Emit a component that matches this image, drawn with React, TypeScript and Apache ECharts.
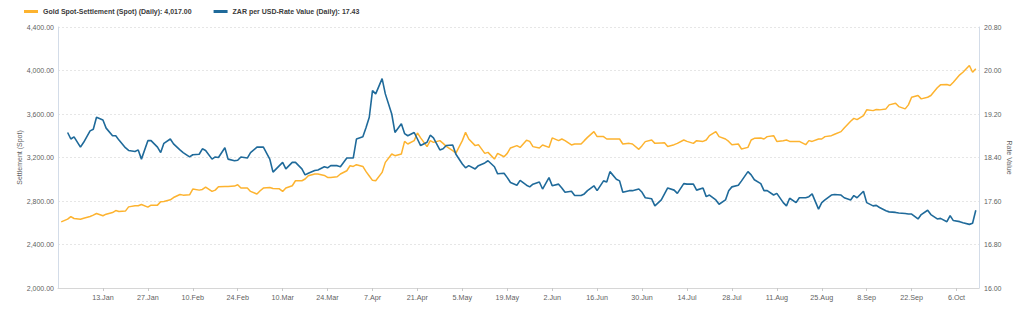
import React, { useEffect, useRef } from "react";
import * as echarts from "echarts";

const dates = [
  "2024-12-31","2025-01-02","2025-01-03","2025-01-04","2025-01-06","2025-01-07","2025-01-09","2025-01-10","2025-01-11","2025-01-13",
  "2025-01-14","2025-01-16","2025-01-17","2025-01-18","2025-01-20","2025-01-21","2025-01-23","2025-01-24","2025-01-25","2025-01-27",
  "2025-01-28","2025-01-30","2025-01-31","2025-02-01","2025-02-03","2025-02-04","2025-02-06","2025-02-07","2025-02-09","2025-02-10",
  "2025-02-12","2025-02-13","2025-02-14","2025-02-16","2025-02-17","2025-02-18","2025-02-20","2025-02-21","2025-02-23","2025-02-24",
  "2025-02-25","2025-02-27","2025-02-28","2025-03-02","2025-03-03","2025-03-04","2025-03-06","2025-03-07","2025-03-09","2025-03-10",
  "2025-03-11","2025-03-13","2025-03-14","2025-03-16","2025-03-17","2025-03-18","2025-03-20","2025-03-21","2025-03-23","2025-03-24",
  "2025-03-25","2025-03-27","2025-03-28","2025-03-30","2025-03-31","2025-04-01","2025-04-02","2025-04-04","2025-04-05","2025-04-06",
  "2025-04-07","2025-04-08","2025-04-10","2025-04-11","2025-04-13","2025-04-14","2025-04-16","2025-04-17","2025-04-18","2025-04-20",
  "2025-04-21","2025-04-22","2025-04-24","2025-04-25","2025-04-26","2025-04-28","2025-04-29","2025-04-30","2025-05-02","2025-05-03",
  "2025-05-05","2025-05-06","2025-05-07","2025-05-09","2025-05-10","2025-05-12","2025-05-13","2025-05-15","2025-05-16","2025-05-18",
  "2025-05-19","2025-05-20","2025-05-22","2025-05-23","2025-05-25","2025-05-26","2025-05-27","2025-05-29","2025-05-30","2025-06-01",
  "2025-06-02","2025-06-04","2025-06-05","2025-06-06","2025-06-08","2025-06-09","2025-06-11","2025-06-12","2025-06-13","2025-06-15",
  "2025-06-16","2025-06-18","2025-06-19","2025-06-20","2025-06-22","2025-06-23","2025-06-24","2025-06-26","2025-06-27","2025-06-29",
  "2025-06-30","2025-07-01","2025-07-03","2025-07-04","2025-07-06","2025-07-07","2025-07-08","2025-07-10","2025-07-11","2025-07-13",
  "2025-07-14","2025-07-16","2025-07-17","2025-07-19","2025-07-20","2025-07-21","2025-07-23","2025-07-24","2025-07-26","2025-07-27",
  "2025-07-28","2025-07-30","2025-07-31","2025-08-02","2025-08-03","2025-08-04","2025-08-06","2025-08-07","2025-08-08","2025-08-10",
  "2025-08-11","2025-08-13","2025-08-14","2025-08-15","2025-08-17","2025-08-18","2025-08-20","2025-08-21","2025-08-22","2025-08-24",
  "2025-08-25","2025-08-26","2025-08-28","2025-08-29","2025-08-31","2025-09-01","2025-09-03","2025-09-04","2025-09-05","2025-09-07",
  "2025-09-08","2025-09-10","2025-09-11","2025-09-12","2025-09-14","2025-09-15","2025-09-17","2025-09-18","2025-09-20","2025-09-21",
  "2025-09-22","2025-09-24","2025-09-25","2025-09-27","2025-09-28","2025-09-30","2025-10-01","2025-10-03","2025-10-04","2025-10-05",
  "2025-10-07","2025-10-08","2025-10-10","2025-10-11","2025-10-12",
];

const goldValues = [
  2608,2633,2657,2639,2633,2642,2657,2670,2685,2664,
  2679,2694,2712,2703,2707,2746,2756,2756,2768,2744,
  2762,2762,2793,2796,2811,2832,2860,2854,2857,2910,
  2900,2906,2928,2888,2900,2931,2934,2934,2937,2949,
  2919,2919,2888,2864,2894,2919,2924,2915,2912,2888,
  2919,2940,2986,2986,3002,3032,3048,3048,3035,3017,
  3017,3023,3048,3078,3124,3118,3134,3118,3070,3030,
  2990,2986,3063,3155,3232,3217,3232,3348,3324,3355,
  3426,3380,3300,3355,3339,3355,3330,3302,3263,3241,
  3355,3431,3370,3309,3318,3238,3247,3186,3238,3207,
  3238,3288,3309,3293,3358,3348,3300,3288,3315,3293,
  3380,3355,3370,3355,3315,3324,3324,3355,3385,3438,
  3392,3392,3370,3370,3370,3370,3324,3330,3324,3275,
  3309,3346,3361,3330,3334,3336,3302,3318,3330,3361,
  3348,3330,3355,3348,3361,3401,3438,3392,3370,3348,
  3318,3324,3278,3293,3361,3376,3380,3370,3392,3401,
  3348,3355,3361,3348,3348,3348,3318,3355,3348,3370,
  3370,3392,3401,3414,3438,3472,3533,3560,3548,3585,
  3638,3631,3641,3638,3647,3684,3699,3668,3647,3684,
  3754,3770,3739,3754,3770,3841,3868,3871,3862,3892,
  3960,3984,4046,3984,4017,
];

const zarValues = [
  null,18.86,18.74,18.78,18.59,18.68,18.89,18.92,19.14,19.09,
  18.94,18.80,18.80,18.72,18.58,18.53,18.51,18.54,18.37,18.71,
  18.71,18.59,18.49,18.66,18.74,18.65,18.54,18.49,18.41,18.45,
  18.46,18.56,18.53,18.37,18.41,18.40,18.58,18.37,18.34,18.35,
  18.41,18.39,18.49,18.59,18.59,18.59,18.37,18.13,18.25,18.31,
  18.19,18.31,18.31,18.19,18.08,18.11,18.16,18.17,18.23,18.21,
  18.25,18.25,18.23,18.39,18.39,18.39,18.74,18.78,18.95,19.14,
  19.63,19.57,19.85,19.57,19.20,18.86,19.02,18.84,18.80,18.86,
  18.74,18.62,18.68,18.81,18.76,18.54,18.56,18.62,18.63,18.46,
  18.28,18.21,18.25,18.19,18.25,18.30,18.34,18.23,18.10,18.11,
  18.03,17.94,17.89,17.98,17.89,17.86,17.91,17.95,17.82,18.03,
  17.88,17.91,17.84,17.76,17.78,17.70,17.70,17.73,17.79,17.88,
  17.79,17.97,17.95,18.14,18.00,17.97,17.76,17.79,17.79,17.82,
  17.76,17.66,17.64,17.51,17.62,17.73,17.84,17.80,17.74,17.92,
  17.91,17.91,17.80,17.84,17.68,17.71,17.62,17.54,17.62,17.79,
  17.86,17.89,17.97,18.14,18.08,17.99,17.92,17.79,17.79,17.71,
  17.74,17.57,17.51,17.65,17.57,17.66,17.66,17.68,17.73,17.45,
  17.57,17.62,17.71,17.72,17.71,17.66,17.62,17.70,17.66,17.78,
  17.57,17.51,17.52,17.48,17.42,17.40,17.39,17.38,17.37,17.36,
  17.36,17.27,17.35,17.43,17.35,17.27,17.28,17.22,17.33,17.24,
  17.22,17.20,17.17,17.19,17.43,
];

const goldName = "Gold Spot-Settlement (Spot) (Daily): 4,017.00";
const zarName = "ZAR per USD-Rate Value (Daily): 17.43";
const leftAxisName = "Settlement (Spot)";
const rightAxisName = "Rate Value";
const monthNames = ["Jan","Feb","Mar","Apr","May","Jun","Jul","Aug","Sep","Oct","Nov","Dec"];
const tickAnchor = "2025-01-13";

const DAY = 86400000;
const parse = (s: string) => {
  const [y, m, d] = s.split("-").map(Number);
  return Date.UTC(y, m - 1, d);
};
const anchor = parse(tickAnchor);
const toOffset = (s: string) => Math.round((parse(s) - anchor) / DAY);

const FONT = "'Liberation Sans', Arial, sans-serif";

export default function App() {
  const ref = useRef<HTMLDivElement>(null);
  useEffect(() => {
    document.body.style.margin = "0";
    if (!ref.current) return;
    const chart = echarts.init(ref.current, null, { renderer: "svg" });
    const xs = dates.map(toOffset);
    const goldData = xs.map((x, i) => [x, goldValues[i]]);
    const zarData = xs.map((x, i) => [x, zarValues[i]]);
    const first = toOffset("2024-12-30");
    const last = toOffset("2025-10-13");
    const labelColor = "#5f5f5f";
    chart.setOption({
      animation: false,
      backgroundColor: "#ffffff",
      textStyle: { fontFamily: FONT },
      legend: {
        left: 19,
        top: 3,
        itemWidth: 14,
        itemHeight: 3,
        itemGap: 22,
        icon: "rect",
        textStyle: { fontFamily: FONT, fontSize: 7, fontWeight: "bold", color: "#3a3a3a" },
        data: [goldName, zarName],
      },
      grid: { left: 58, right: 45, top: 27, bottom: 32 },
      xAxis: {
        type: "value",
        min: first,
        max: last,
        interval: 14,
        axisLine: { show: true, onZero: false, lineStyle: { color: "#d6d6d6", width: 1 } },
        axisTick: { show: true, length: 3, lineStyle: { color: "#c8c8c8" } },
        splitLine: { show: false },
        axisLabel: {
          color: labelColor,
          fontSize: 7.2,
          fontFamily: FONT,
          margin: 6,
          showMinLabel: false,
          showMaxLabel: false,
          formatter: (v: number) => {
            if (v < 0 || v > 266) return "";
            const d = new Date(anchor + v * DAY);
            return `${d.getUTCDate()}.${monthNames[d.getUTCMonth()]}`;
          },
        },
      },
      yAxis: [
        {
          type: "value",
          min: 2000,
          max: 4400,
          interval: 400,
          position: "left",
          name: leftAxisName,
          nameLocation: "middle",
          nameGap: 35,
          nameMoveOverlap: false,
          nameTextStyle: { color: labelColor, fontSize: 7, fontFamily: FONT },
          axisLine: { show: true, onZero: false, lineStyle: { color: "#d3dce8", width: 1 } },
          axisTick: { show: false },
          axisLabel: {
            color: labelColor,
            fontSize: 7,
            fontFamily: FONT,
            margin: 4,
            formatter: (v: number) =>
              v.toLocaleString("en-US", { minimumFractionDigits: 2, maximumFractionDigits: 2 }),
          },
          splitLine: { show: true, lineStyle: { color: "#e6e6e6", type: [2, 2], width: 1 } },
        },
        {
          type: "value",
          min: 16,
          max: 20.8,
          interval: 0.8,
          position: "right",
          name: rightAxisName,
          nameLocation: "middle",
          nameGap: 27,
          nameRotate: -90,
          nameMoveOverlap: false,
          nameTextStyle: { color: labelColor, fontSize: 7, fontFamily: FONT },
          axisLine: { show: true, onZero: false, lineStyle: { color: "#d3dce8", width: 1 } },
          axisTick: { show: false },
          axisLabel: {
            color: labelColor,
            fontSize: 7,
            fontFamily: FONT,
            margin: 5,
            formatter: (v: number) => v.toFixed(2),
          },
          splitLine: { show: false },
        },
      ],
      series: [
        {
          name: goldName,
          type: "line",
          yAxisIndex: 0,
          data: goldData,
          showSymbol: false,
          symbol: "none",
          color: "#FDB32F",
          lineStyle: { color: "#FDB32F", width: 1.5 },
          z: 2,
        },
        {
          name: zarName,
          type: "line",
          yAxisIndex: 1,
          data: zarData,
          showSymbol: false,
          symbol: "none",
          connectNulls: false,
          color: "#1F6A9A",
          lineStyle: { color: "#1F6A9A", width: 1.6 },
          z: 3,
        },
      ],
    });
    return () => chart.dispose();
  }, []);
  return <div ref={ref} style={{ width: 1024, height: 320 }} />;
}
